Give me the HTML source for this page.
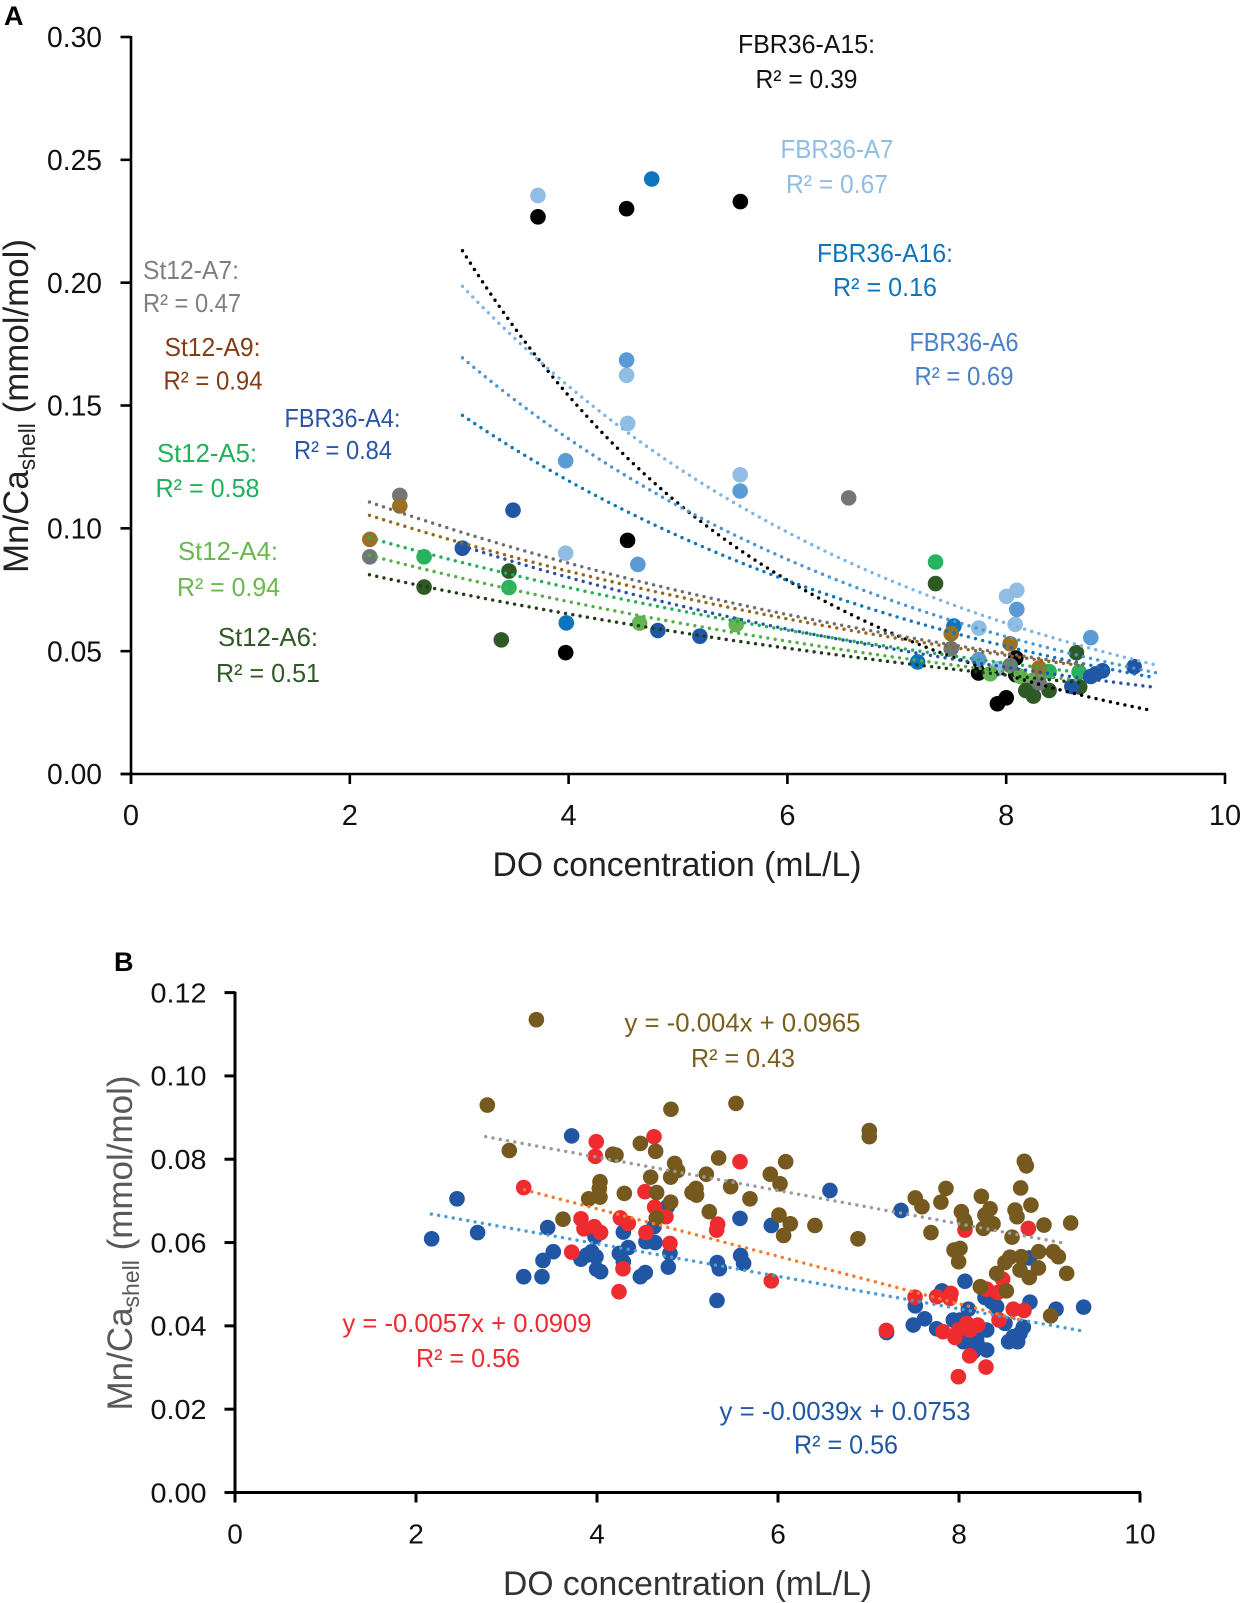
<!DOCTYPE html>
<html lang="en">
<head>
<meta charset="utf-8">
<title>Mn/Ca shell versus DO concentration</title>
<style>
html,body{margin:0;padding:0;background:#fff;}
svg{display:block;font-family:"Liberation Sans",sans-serif;}
text{font-family:"Liberation Sans",sans-serif;}
.lbl{font-size:26px;text-anchor:middle;}
</style>
</head>
<body>
<svg id="figure" xmlns="http://www.w3.org/2000/svg" width="1240" height="1603" viewBox="0 0 1240 1603">
<rect width="1240" height="1603" fill="#fff"/>
<text x="4" y="25" font-size="27" font-weight="bold" fill="#000">A</text>
<text x="114" y="971" font-size="27" font-weight="bold" fill="#000">B</text>
<g id="panelA"></g>
<g id="panelB"></g>

<text x="677" y="876" font-size="34" text-anchor="middle" textLength="369" lengthAdjust="spacingAndGlyphs" fill="#222">DO concentration (mL/L)</text>
<text transform="translate(28,406) rotate(-90)" font-size="35" text-anchor="middle" textLength="334" lengthAdjust="spacingAndGlyphs" fill="#222">Mn/Ca<tspan font-size="23" dy="7">shell</tspan><tspan dy="-7"> (mmol/mol)</tspan></text>

<text x="687.5" y="1595" font-size="34" text-anchor="middle" textLength="369" lengthAdjust="spacingAndGlyphs" fill="#333">DO concentration (mL/L)</text>
<text transform="translate(132,1243) rotate(-90)" font-size="35" text-anchor="middle" textLength="335" lengthAdjust="spacingAndGlyphs" fill="#595959">Mn/Ca<tspan font-size="23" dy="7">shell</tspan><tspan dy="-7"> (mmol/mol)</tspan></text>

<g>
<text class="lbl" x="806.5" y="53" textLength="137" lengthAdjust="spacingAndGlyphs" fill="#111">FBR36-A15:</text>
<text class="lbl" x="806.5" y="88" textLength="102" lengthAdjust="spacingAndGlyphs" fill="#111">R² = 0.39</text>
<text class="lbl" x="837" y="158" textLength="113" lengthAdjust="spacingAndGlyphs" fill="#8fbde4">FBR36-A7</text>
<text class="lbl" x="837" y="193" textLength="102" lengthAdjust="spacingAndGlyphs" fill="#8fbde4">R² = 0.67</text>
<text class="lbl" x="885" y="262" textLength="136" lengthAdjust="spacingAndGlyphs" fill="#0b76be">FBR36-A16:</text>
<text class="lbl" x="885" y="296" textLength="104" lengthAdjust="spacingAndGlyphs" fill="#0b76be">R² = 0.16</text>
<text class="lbl" x="964" y="351" textLength="109" lengthAdjust="spacingAndGlyphs" fill="#4a80c8">FBR36-A6</text>
<text class="lbl" x="964" y="385" textLength="99" lengthAdjust="spacingAndGlyphs" fill="#4a80c8">R² = 0.69</text>
<text class="lbl" x="342.5" y="427" textLength="116" lengthAdjust="spacingAndGlyphs" fill="#2a55a5">FBR36-A4:</text>
<text class="lbl" x="343" y="459" textLength="98" lengthAdjust="spacingAndGlyphs" fill="#2a55a5">R² = 0.84</text>
<text class="lbl" x="191" y="279" textLength="96" lengthAdjust="spacingAndGlyphs" fill="#7f7f7f">St12-A7:</text>
<text class="lbl" x="192" y="312" textLength="98" lengthAdjust="spacingAndGlyphs" fill="#7f7f7f">R² = 0.47</text>
<text class="lbl" x="212.5" y="356" textLength="96" lengthAdjust="spacingAndGlyphs" fill="#843c17">St12-A9:</text>
<text class="lbl" x="213" y="389.5" textLength="99" lengthAdjust="spacingAndGlyphs" fill="#843c17">R² = 0.94</text>
<text class="lbl" x="207" y="462" textLength="100" lengthAdjust="spacingAndGlyphs" fill="#22b05c">St12-A5:</text>
<text class="lbl" x="207.5" y="497" textLength="104" lengthAdjust="spacingAndGlyphs" fill="#22b05c">R² = 0.58</text>
<text class="lbl" x="228" y="560" textLength="100" lengthAdjust="spacingAndGlyphs" fill="#6ab84f">St12-A4:</text>
<text class="lbl" x="228.5" y="596" textLength="103" lengthAdjust="spacingAndGlyphs" fill="#6ab84f">R² = 0.94</text>
<text class="lbl" x="268" y="646" textLength="100" lengthAdjust="spacingAndGlyphs" fill="#2f5a26">St12-A6:</text>
<text class="lbl" x="268" y="682" textLength="104" lengthAdjust="spacingAndGlyphs" fill="#2f5a26">R² = 0.51</text>
</g>

<g>
<text class="lbl" x="742.5" y="1031.5" textLength="236" lengthAdjust="spacingAndGlyphs" fill="#7a5e1c">y = -0.004x + 0.0965</text>
<text class="lbl" x="743" y="1067" textLength="104" lengthAdjust="spacingAndGlyphs" fill="#7a5e1c">R² = 0.43</text>
<text class="lbl" x="467" y="1332" textLength="249" lengthAdjust="spacingAndGlyphs" fill="#ee2b30">y = -0.0057x + 0.0909</text>
<text class="lbl" x="468" y="1367" textLength="104" lengthAdjust="spacingAndGlyphs" fill="#ee2b30">R² = 0.56</text>
<text class="lbl" x="845" y="1420" textLength="251" lengthAdjust="spacingAndGlyphs" fill="#2156a5">y = -0.0039x + 0.0753</text>
<text class="lbl" x="846" y="1453.5" textLength="104" lengthAdjust="spacingAndGlyphs" fill="#2156a5">R² = 0.56</text>
</g>
</svg>

<script>
/* ---------- Panel A data ---------- */
const ticksAX = [0, 2, 4, 6, 8, 10];
const ticksAY = [0, 0.05, 0.10, 0.15, 0.20, 0.25, 0.30];

const a15X = [3.72, 4.53, 5.57, 4.539, 3.973, 7.747, 7.92, 8.0, 8.088, 8.088];
const a15Y = [0.2268, 0.2301, 0.233, 0.0951, 0.0494, 0.0411, 0.0286, 0.031, 0.0472, 0.0404];
const a7X = [3.72, 4.53, 4.54, 5.568, 3.973, 8.003, 8.097, 8.082, 7.75, 7.92];
const a7Y = [0.2355, 0.1623, 0.1427, 0.1218, 0.0899, 0.0723, 0.0748, 0.0609, 0.0594, 0.0428];
const a6X = [4.53, 5.568, 3.973, 4.633, 8.097, 8.773, 7.75];
const a6Y = [0.1685, 0.1152, 0.1275, 0.0853, 0.067, 0.0555, 0.0466];
const a16X = [4.76, 3.979, 7.522, 7.19];
const a16Y = [0.2422, 0.0615, 0.0602, 0.0456];
const a4X = [3.029, 3.492, 4.816, 5.2, 9.169, 8.88, 8.82, 8.773, 8.6];
const a4Y = [0.0919, 0.1074, 0.0584, 0.0561, 0.0437, 0.042, 0.0408, 0.0397, 0.0356];
const s7X = [2.457, 2.183, 6.56, 7.497, 8.036, 8.301];
const s7Y = [0.1134, 0.0884, 0.1124, 0.051, 0.0442, 0.0371];
const s9X = [2.457, 2.183, 7.497, 8.036, 8.301];
const s9Y = [0.1091, 0.0955, 0.0571, 0.053, 0.0432];
const s4X = [4.649, 5.532, 7.854, 8.13, 8.24];
const s4Y = [0.0614, 0.0608, 0.0408, 0.0397, 0.0381];
const s5X = [2.679, 3.455, 7.354, 8.392, 8.666];
const s5Y = [0.0884, 0.0759, 0.0863, 0.0417, 0.0415];
const s6X = [2.679, 3.455, 3.385, 7.354, 8.642, 8.672, 8.179, 8.249, 8.392];
const s6Y = [0.0761, 0.0826, 0.0546, 0.0775, 0.0494, 0.0354, 0.034, 0.0317, 0.034];

const seriesANames = ["fbr36-a15", "fbr36-a7", "fbr36-a6", "fbr36-a16", "st12-a4", "st12-a5", "st12-a6", "st12-a7", "st12-a9", "fbr36-a4"];
const seriesAX = [a15X, a7X, a6X, a16X, s4X, s5X, s6X, s7X, s9X, a4X];
const seriesAY = [a15Y, a7Y, a6Y, a16Y, s4Y, s5Y, s6Y, s7Y, s9Y, a4Y];
const seriesAColors = ["#000000", "#8fbde4", "#5a9bd5", "#0b76be", "#66b354", "#27b35f", "#2f5a26", "#727679", "#9a7024", "#2156a5"];
const trendAColors = ["#000000", "#7db5e3", "#4a95d6", "#0b76be", "#55ad45", "#20b058", "#1d3d17", "#6e6e6e", "#96661b", "#2a52a8"];
const trendAStartX = [3.03, 3.03, 3.03, 3.03, 2.18, 2.18, 2.18, 2.18, 2.18, 3.03];
const trendAStartY = [0.213, 0.1985, 0.1694, 0.146, 0.089, 0.0961, 0.0811, 0.1107, 0.1053, 0.0928];
const trendAEndX = [9.34, 9.36, 9.37, 9.37, 8.7, 8.7, 8.7, 8.7, 8.7, 9.34];
const trendAEndY = [0.0258, 0.0445, 0.0412, 0.0391, 0.038, 0.0412, 0.037, 0.0445, 0.044, 0.0354];

/* ---------- Panel B data ---------- */
const ticksBX = [0, 2, 4, 6, 8, 10];
const ticksBY = [0, 0.02, 0.04, 0.06, 0.08, 0.10, 0.12];

const blueX = [2.453, 2.173, 2.681, 3.72, 3.455, 3.517, 3.403, 3.19, 3.392, 3.823, 3.886, 3.941, 3.989, 3.978, 3.996, 4.04, 4.291, 4.247, 4.346, 4.291, 4.479, 4.534, 4.541, 4.641, 4.63, 4.777, 4.806, 4.788, 5.329, 5.352, 5.326, 5.58, 5.587, 5.62, 5.926, 6.574, 7.359, 8.777, 8.066, 7.812, 7.517, 7.495, 7.62, 7.753, 7.2, 8.287, 8.416, 8.36, 8.103, 8.784, 9.072, 9.377, 7.937, 8.011, 8.306, 8.508, 8.711, 8.674, 8.6, 8.548, 8.648, 8.048, 8.195, 8.158, 8.306, 8.214];
const blueY = [0.0705, 0.0609, 0.0624, 0.0856, 0.0636, 0.0578, 0.0557, 0.0518, 0.0518, 0.056, 0.057, 0.0578, 0.0566, 0.0614, 0.0536, 0.053, 0.0625, 0.0574, 0.0588, 0.0554, 0.0518, 0.0528, 0.0602, 0.06, 0.0638, 0.0686, 0.0574, 0.0541, 0.0552, 0.0537, 0.0461, 0.0658, 0.0569, 0.055, 0.0641, 0.0725, 0.0677, 0.0563, 0.0507, 0.0484, 0.0448, 0.0402, 0.0417, 0.0393, 0.0384, 0.0468, 0.0446, 0.0458, 0.044, 0.0457, 0.044, 0.0445, 0.0414, 0.0414, 0.039, 0.0406, 0.0397, 0.0382, 0.0374, 0.0362, 0.0362, 0.0362, 0.0366, 0.0338, 0.0342, 0.035];
const redX = [3.19, 3.992, 3.981, 4.63, 5.58, 4.53, 4.637, 4.762, 4.541, 4.258, 4.346, 3.823, 3.856, 3.97, 4.04, 4.806, 5.333, 5.322, 3.72, 4.287, 4.243, 5.926, 7.514, 7.753, 7.911, 7.9, 8.066, 8.766, 8.482, 8.306, 8.427, 8.442, 8.6, 8.718, 7.197, 7.823, 7.956, 7.993, 8.085, 8.122, 8.206, 8.118, 8.298, 7.993];
const redY = [0.0732, 0.0842, 0.0807, 0.0854, 0.0794, 0.0722, 0.0685, 0.0662, 0.0624, 0.0659, 0.0646, 0.0657, 0.0633, 0.0638, 0.0624, 0.0598, 0.0644, 0.063, 0.0577, 0.0537, 0.0482, 0.0508, 0.0469, 0.047, 0.0478, 0.0466, 0.063, 0.0634, 0.0512, 0.0488, 0.048, 0.0414, 0.044, 0.0437, 0.0389, 0.0386, 0.0372, 0.039, 0.0406, 0.039, 0.0402, 0.0328, 0.0301, 0.0278];
const brownX = [3.33, 2.788, 3.031, 4.817, 5.536, 4.479, 4.648, 4.173, 4.21, 5.344, 6.085, 4.858, 4.891, 4.814, 4.593, 5.208, 5.915, 6.022, 4.033, 4.026, 4.033, 3.908, 4.302, 4.659, 5.094, 5.05, 5.1, 5.477, 5.69, 4.814, 5.241, 3.624, 4.655, 6.011, 6.136, 6.062, 6.408, 7.009, 7.009, 6.884, 8.722, 8.744, 8.681, 7.856, 7.517, 7.591, 7.8, 8.247, 8.795, 8.343, 8.287, 8.619, 8.641, 8.026, 8.059, 8.07, 8.376, 8.269, 7.69, 8.939, 9.234, 8.586, 8.011, 7.945, 7.996, 8.88, 9.042, 9.098, 8.689, 8.563, 8.508, 8.674, 8.877, 8.777, 9.19, 8.416, 8.236, 8.523, 9.013];
const brownY = [0.1135, 0.093, 0.0821, 0.092, 0.0934, 0.0838, 0.0819, 0.0812, 0.081, 0.0803, 0.0794, 0.079, 0.0773, 0.0757, 0.0757, 0.0764, 0.0764, 0.0741, 0.0746, 0.073, 0.0709, 0.0705, 0.0718, 0.072, 0.073, 0.072, 0.0714, 0.0734, 0.0705, 0.0697, 0.0674, 0.0656, 0.0659, 0.0666, 0.0645, 0.0617, 0.0641, 0.0869, 0.0854, 0.0609, 0.0795, 0.0784, 0.0731, 0.073, 0.0707, 0.0686, 0.0697, 0.0711, 0.069, 0.0681, 0.0666, 0.0678, 0.0662, 0.0674, 0.0654, 0.0646, 0.0645, 0.0634, 0.0624, 0.0642, 0.0647, 0.0613, 0.0586, 0.0582, 0.0554, 0.0578, 0.0578, 0.0566, 0.0566, 0.0565, 0.0552, 0.0534, 0.0539, 0.0516, 0.0526, 0.0526, 0.0494, 0.0484, 0.0424];

const seriesBNames = ["blue-series", "red-series", "brown-series"];
const seriesBX = [blueX, redX, brownX];
const seriesBY = [blueY, redY, brownY];
const seriesBColors = ["#2156a5", "#ee2c30", "#75591e"];
const trendBColors = ["#4a9ad4", "#f47b2a", "#9a9a9a"];
const trendBSlopes = [-0.0039, -0.0057, -0.004];
const trendBIntercepts = [0.0753, 0.0909, 0.0965];
const trendBStartX = [2.17, 3.2, 2.77];
const trendBEndX = [9.38, 8.71, 9.19];

/* ---------- Drawing ---------- */
const NS = "http://www.w3.org/2000/svg";

function makeEl(parent, tag, attrs) {
  const el = document.createElementNS(NS, tag);
  for (const k in attrs) el.setAttribute(k, attrs[k]);
  parent.appendChild(el);
  return el;
}

function makeScale(d0, d1, p0, p1) {
  return function (v) { return p0 + (v - d0) * (p1 - p0) / (d1 - d0); };
}

function drawAxes(root, xScale, yScale, xTicks, yTicks, yDigits, w, tickFont, xLabelY, yLabelRight, yLabelLen, prefix) {
  const x0 = xScale(xTicks[0]);
  const y0 = yScale(yTicks[0]);
  const yAxis = makeEl(root, "line", {x1: x0, x2: x0, y1: yScale(yTicks[yTicks.length - 1]) - 1, y2: y0 + 10, stroke: "#000", "stroke-width": w});
  
  
  const xAxis = makeEl(root, "line", {x1: x0 - 10.5, x2: xScale(xTicks[xTicks.length - 1]) + 1, y1: y0, y2: y0, stroke: "#000", "stroke-width": w});
  
  
  xTicks.forEach(function (t) {
    const tx = xScale(t);
    const mark = makeEl(root, "line", {x1: tx, x2: tx, y1: y0, y2: y0 + 10, stroke: "#000", "stroke-width": w});
    
    
    const label = makeEl(root, "text", {x: tx, y: xLabelY, "text-anchor": "middle", "font-size": tickFont, fill: "#111"});
    label.textContent = String(t);
    
    
  });
  yTicks.forEach(function (t) {
    const ty = yScale(t);
    const mark = makeEl(root, "line", {x1: x0 - 10.5, x2: x0, y1: ty, y2: ty, stroke: "#000", "stroke-width": w});
    
    
    const label = makeEl(root, "text", {x: yLabelRight, y: ty + tickFont * 0.35, "text-anchor": "end", "font-size": tickFont, fill: "#111", textLength: yLabelLen, lengthAdjust: "spacingAndGlyphs"});
    label.textContent = t.toFixed(yDigits);
    
    
  });
}

function drawPoints(root, name, xs, ys, xScale, yScale, color, r) {
  const g = makeEl(root, "g", {fill: color});
  
  
  xs.forEach(function (x, i) {
    const c = makeEl(g, "circle", {cx: xScale(x), cy: yScale(ys[i]), r: r});
    
    
  });
}

function drawTrend(root, name, fn, xa, xb, xScale, yScale, color) {
  const steps = 60;
  let d = "";
  for (let i = 0; i <= steps; i++) {
    const x = xa + (xb - xa) * i / steps;
    d += (i ? "L" : "M") + xScale(x).toFixed(2) + " " + yScale(fn(x)).toFixed(2);
  }
  const p = makeEl(root, "path", {d: d, fill: "none", stroke: color, "stroke-width": 3.4, "stroke-linecap": "round", "stroke-dasharray": "0 7.4"});
  
  
}

/* Panel A */
const rootA = document.getElementById("panelA");
const xA = makeScale(0, 10, 131, 1225);
const yA = makeScale(0, 0.30, 774, 37);
drawAxes(rootA, xA, yA, ticksAX, ticksAY, 2, 2.6, 29, 825, 102, 55, "panel-a");
seriesANames.forEach(function (name, i) {
  drawPoints(rootA, name, seriesAX[i], seriesAY[i], xA, yA, seriesAColors[i], 7.8);
});
seriesANames.forEach(function (name, i) {
  const xa = trendAStartX[i], xb = trendAEndX[i], ya = trendAStartY[i], yb = trendAEndY[i];
  const rate = Math.log(yb / ya) / (xb - xa);
  drawTrend(rootA, name, function (x) { return ya * Math.exp(rate * (x - xa)); }, xa, xb, xA, yA, trendAColors[i]);
});

/* Panel B */
const rootB = document.getElementById("panelB");
const xB = makeScale(0, 10, 235, 1140);
const yB = makeScale(0, 0.12, 1492.5, 992.6);
drawAxes(rootB, xB, yB, ticksBX, ticksBY, 2, 3, 28, 1543.5, 206.5, 56, "panel-b");
seriesBNames.forEach(function (name, i) {
  drawPoints(rootB, name, seriesBX[i], seriesBY[i], xB, yB, seriesBColors[i], 7.8);
});
seriesBNames.forEach(function (name, i) {
  const m = trendBSlopes[i], b = trendBIntercepts[i];
  drawTrend(rootB, name, function (x) { return m * x + b; }, trendBStartX[i], trendBEndX[i], xB, yB, trendBColors[i]);
});
</script>
</body>
</html>
